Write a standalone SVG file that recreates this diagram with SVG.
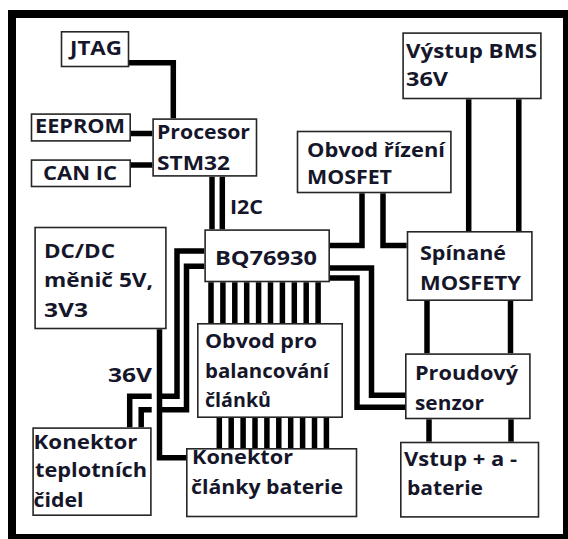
<svg xmlns="http://www.w3.org/2000/svg" width="568" height="539" viewBox="0 0 568 539">
<style>
.box{fill:#fff;stroke:#262626;stroke-width:1.6}
.t{font-family:"Open Sans","Liberation Sans",sans-serif;font-weight:700;font-size:19px;fill:#16162a}
.w{fill:none;stroke:#000;stroke-width:5.5;stroke-linejoin:miter;stroke-linecap:butt}
.frame{fill:none;stroke:#000;stroke-width:8}
</style>
<rect x="0" y="0" width="568" height="539" fill="#fff"/>
<rect class="frame" x="12" y="14" width="555" height="524"/>
<g id="connectors">
<path class="w" d="M129,62.8 H173.3 V118.3"/>
<path class="w" d="M131,133.5 H152.3"/>
<path class="w" d="M131,165 H152.3"/>
<path class="w" d="M212,176.7 V229.3"/>
<path class="w" d="M222.3,176.7 V229.3"/>
<path class="w" d="M362,193.3 V245.5 H330"/>
<path class="w" d="M383,193.3 V245.5 H406.7"/>
<path class="w" d="M468.7,99.3 V231"/>
<path class="w" d="M518.8,99.3 V231"/>
<path class="w" d="M427,301 V353.3"/>
<path class="w" d="M510.5,301 V353.3"/>
<path class="w" d="M429,419.3 V441.7"/>
<path class="w" d="M511,419.3 V441.7"/>
<path class="w" d="M330,268 H371.5 V395.3 H405"/>
<path class="w" d="M330,278 H357 V407.3 H405"/>
<path class="w" d="M204.3,251 H177 V396.3 H160"/>
<path class="w" d="M204.3,266.3 H186.5 V409.7 H160"/>
<path class="w" d="M151.7,396.3 H129.7 V427.3"/>
<path class="w" d="M151.7,409.7 H141.2 V427.3"/>
<path class="w" d="M159.5,329.3 V457.8 H186"/>
<path class="w" d="M211,282.3 V323 M222.9,282.3 V323 M234.8,282.3 V323 M246.7,282.3 V323 M258.6,282.3 V323 M270.5,282.3 V323 M282.4,282.3 V323 M294.3,282.3 V323 M306.2,282.3 V323 M318.1,282.3 V323"/>
<path class="w" d="M219.3,418 V448 M231.2,418 V448 M243.1,418 V448 M255,418 V448 M266.9,418 V448 M278.8,418 V448 M290.7,418 V448 M302.6,418 V448 M314.5,418 V448 M326.4,418 V448"/>
</g>
<g id="jtag"><rect class="box" x="61.5" y="31.8" width="67" height="34.7"/><text class="t" x="70" y="55" textLength="52" lengthAdjust="spacingAndGlyphs">JTAG</text></g>
<g id="eeprom"><rect class="box" x="31.5" y="114.1" width="98.7" height="26.8"/><text class="t" x="35" y="133" textLength="90" lengthAdjust="spacingAndGlyphs">EEPROM</text></g>
<g id="can"><rect class="box" x="31.5" y="160.1" width="98.7" height="26.4"/><text class="t" x="43" y="180" textLength="74" lengthAdjust="spacingAndGlyphs">CAN IC</text></g>
<g id="procesor"><rect class="box" x="153.1" y="119.1" width="103.4" height="56.8"/><text class="t" x="157" y="139" textLength="93" lengthAdjust="spacingAndGlyphs">Procesor</text><text class="t" x="157" y="170" textLength="73" lengthAdjust="spacingAndGlyphs">STM32</text></g>
<g id="i2c"><text class="t" x="230" y="214" textLength="33" lengthAdjust="spacingAndGlyphs">I2C</text></g>
<g id="vystup"><rect class="box" x="403.1" y="33.1" width="137.8" height="65.4"/><text class="t" x="406" y="58" textLength="131" lengthAdjust="spacingAndGlyphs">Výstup BMS</text><text class="t" x="406" y="86" textLength="42" lengthAdjust="spacingAndGlyphs">36V</text></g>
<g id="obvod-rizeni"><rect class="box" x="297.5" y="131.5" width="153.4" height="61"/><text class="t" x="307" y="157" textLength="138" lengthAdjust="spacingAndGlyphs">Obvod řízení</text><text class="t" x="307" y="184" textLength="85" lengthAdjust="spacingAndGlyphs">MOSFET</text></g>
<g id="bq"><rect class="box" x="205.1" y="230.1" width="124.1" height="51.4"/><text class="t" x="215" y="265" textLength="102" lengthAdjust="spacingAndGlyphs">BQ76930</text></g>
<g id="spinane"><rect class="box" x="407.5" y="231.8" width="124.4" height="68.4"/><text class="t" x="420" y="260" textLength="86" lengthAdjust="spacingAndGlyphs">Spínané</text><text class="t" x="420" y="290" textLength="101" lengthAdjust="spacingAndGlyphs">MOSFETY</text></g>
<g id="proudovy"><rect class="box" x="405.8" y="354.1" width="124.1" height="64.4"/><text class="t" x="415" y="380" textLength="103" lengthAdjust="spacingAndGlyphs">Proudový</text><text class="t" x="415" y="410" textLength="69" lengthAdjust="spacingAndGlyphs">senzor</text></g>
<g id="vstup"><rect class="box" x="400.8" y="442.5" width="137.7" height="74.4"/><text class="t" x="404" y="466" textLength="113" lengthAdjust="spacingAndGlyphs">Vstup + a -</text><text class="t" x="407" y="495" textLength="76" lengthAdjust="spacingAndGlyphs">baterie</text></g>
<g id="dcdc"><rect class="box" x="35.1" y="227.5" width="130.8" height="101"/><text class="t" x="44" y="258" textLength="71" lengthAdjust="spacingAndGlyphs">DC/DC</text><text class="t" x="44" y="287" textLength="109" lengthAdjust="spacingAndGlyphs">měnič 5V,</text><text class="t" x="44" y="317" textLength="44" lengthAdjust="spacingAndGlyphs">3V3</text></g>
<g id="label-36v"><text class="t" x="108" y="382" textLength="44" lengthAdjust="spacingAndGlyphs">36V</text></g>
<g id="balancovani"><rect class="box" x="197.8" y="323.8" width="144.4" height="93.4"/><text class="t" x="205" y="348" textLength="112" lengthAdjust="spacingAndGlyphs">Obvod pro</text><text class="t" x="205" y="377.5" textLength="124" lengthAdjust="spacingAndGlyphs">balancování</text><text class="t" x="205" y="407" textLength="66" lengthAdjust="spacingAndGlyphs">článků</text></g>
<g id="konektor-teplot"><rect class="box" x="33.1" y="428.1" width="117.8" height="87.1"/><text class="t" x="33.5" y="448.5" textLength="104" lengthAdjust="spacingAndGlyphs">Konektor</text><text class="t" x="35" y="477" textLength="112" lengthAdjust="spacingAndGlyphs">teplotních</text><text class="t" x="33.5" y="507" textLength="50" lengthAdjust="spacingAndGlyphs">čidel</text></g>
<g id="konektor-clanky"><rect class="box" x="186.8" y="448.8" width="169.7" height="67.7"/><text class="t" x="192" y="463.5" textLength="101" lengthAdjust="spacingAndGlyphs">Konektor</text><text class="t" x="191" y="493.5" textLength="152" lengthAdjust="spacingAndGlyphs">články baterie</text></g>
</svg>
